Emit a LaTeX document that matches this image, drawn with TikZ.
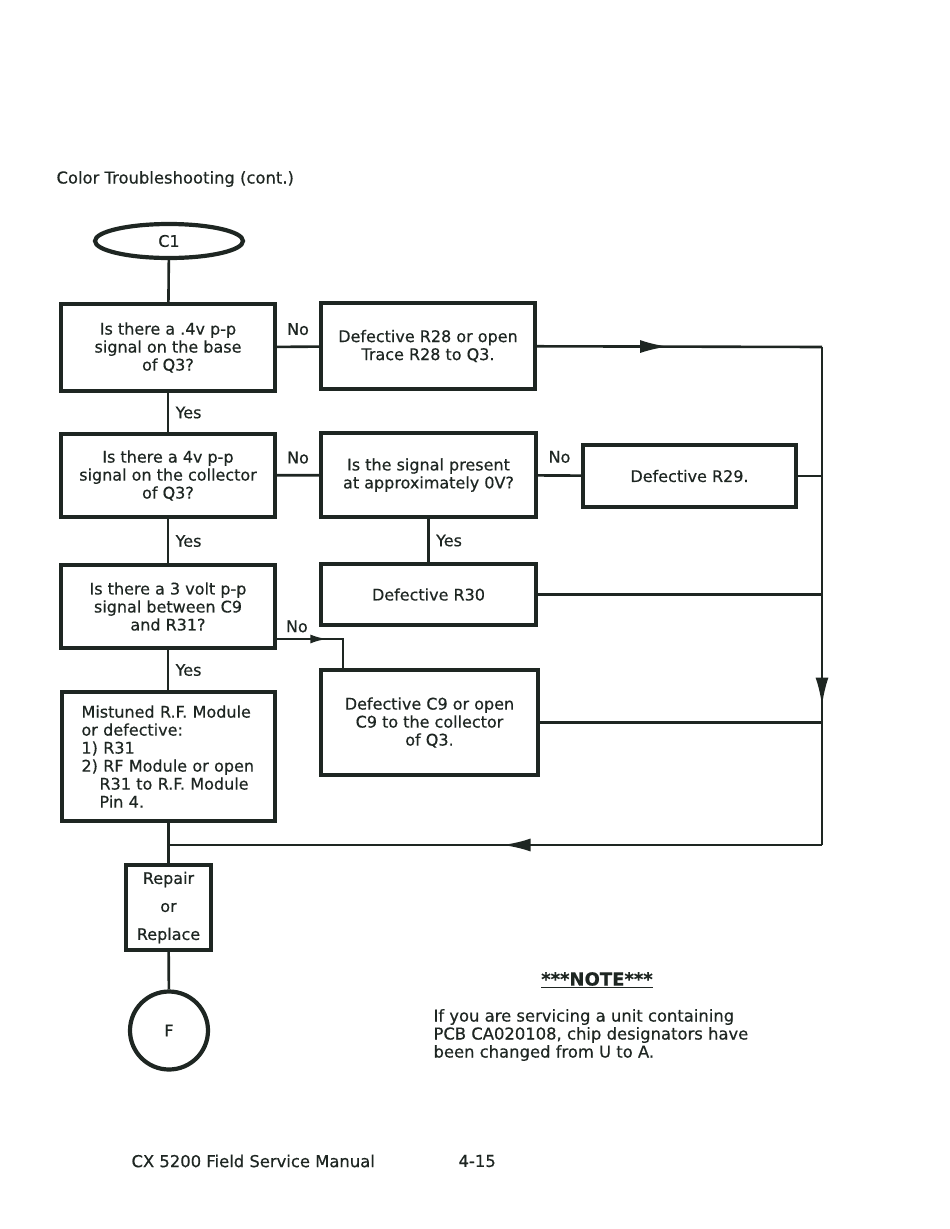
\documentclass[tikz,border=0pt]{standalone}
\usepackage{fontspec}
\setmainfont{DejaVu Sans}[FakeBold=0.5]
\usetikzlibrary{shapes.geometric,arrows.meta,decorations.markings,positioning}
\definecolor{ink}{RGB}{30,38,34}
\begin{document}
\begin{tikzpicture}[x=1pt,y=-1pt,
    font=\fontsize{16}{18}\selectfont, color=ink,
    box/.style={draw,line width=4.2pt,align=center,inner sep=2pt},
    flow/.style={draw,line width=2.6pt},
    big/.style={font=\fontsize{16.4}{18}\selectfont},
    arrowat/.style={postaction={decorate},decoration={markings,
        mark=at position #1 with {\arrow{Latex[length=28pt,width=13pt]}}}},
    smallarrowat/.style={postaction={decorate},decoration={markings,
        mark=at position #1 with {\arrow{Latex[length=17pt,width=9pt]}}}}]
\useasboundingbox (0,0) rectangle (950,1229);

\node[big,anchor=west] (title) at (53,179) {Color Troubleshooting (cont.)};

% left column
\node[box,ellipse,minimum width=148,minimum height=34] (c1) at (169,241) {C1};
\node[box,minimum width=214,minimum height=87] (q1) at (168,347.5) {Is there a .4v p-p\\signal on the base\\of Q3?};
\node[box,minimum width=214,minimum height=83] (q2) at (168,475.5) {Is there a 4v p-p\\signal on the collector\\of Q3?};
\node[box,minimum width=214,minimum height=83] (q3) at (168,606.5) {Is there a 3 volt p-p\\signal between C9\\and R31?};
\node[box,minimum width=213,minimum height=129,text width=174,align=left] (rf) at (168.5,756.5)
    {Mistuned R.F. Module\\or defective:\\1) R31\\2) RF Module or open\\\hspace*{18pt}R31 to R.F. Module\\\hspace*{18pt}Pin 4.};
\node[box,minimum width=85,minimum height=85] (rep) at (168.5,907.5) {Repair\\[10pt]or\\[10pt]Replace};
\node[box,circle,minimum size=78] (fin) at (169,1030.5) {F};

% middle and right column
\node[box,minimum width=214,minimum height=86] (r28) at (428,346) {Defective R28 or open\\Trace R28 to Q3.};
\node[box,minimum width=215,minimum height=84] (q4) at (428.5,475) {Is the signal present\\at approximately 0V?};
\node[box,minimum width=213,minimum height=62] (r29) at (689.5,476) {Defective R29.};
\node[box,minimum width=215,minimum height=61] (r30) at (428.5,594.5) {Defective R30};
\node[box,minimum width=217,minimum height=105] (c9) at (429.5,722.5) {Defective C9 or open\\C9 to the collector\\of Q3.};

\coordinate (cr) at (822,347);
\coordinate (cb) at (822,845);
\coordinate (jn) at (170,845);
\coordinate (nobend) at (343,639);

% connectors
\draw[flow] (c1) -- (q1);
\draw[flow] (q1) -- node[right=3pt] {Yes} (q2);
\draw[flow] (q2) -- node[right=3pt] {Yes} (q3);
\draw[flow] (q3) -- node[right=3pt] {Yes} (rf.north -| q3);
\draw[flow] (rf.south -| rep) -- (rep);
\draw[flow] (rep) -- (fin);
\draw[flow] (q4) -- node[right=3pt] {Yes} (r30);
\draw[flow] (q1) -- node[above=7pt] {No} (r28);
\draw[flow] (q2) -- node[above=7pt] {No} (q4);
\draw[flow] (q4) -- node[above=8pt] {No} (r29);
\draw[flow,smallarrowat=0.53] (q3.east |- nobend) -- node[above=2pt,pos=0.3] {No} (nobend) -- (nobend |- c9.north);

% return path
\draw[flow,arrowat=0.46] (r28) -- (cr);
\draw[flow,arrowat=0.72] (cr) -- (cb);
\draw[flow,arrowat=0.49] (cb) -- (jn);
\draw[flow] (r29) -- (r29 -| cr);
\draw[flow] (r30) -- (r30 -| cr);
\draw[flow] (c9) -- (c9 -| cr);

% note
\node[font=\fontsize{18}{20}\selectfont] (note) at (597,980) {\underline{\textbf{***NOTE***}}};
\node[big,anchor=west,align=left] (notetext) at (430,1035) {If you are servicing a unit containing\\PCB CA020108, chip designators have\\been changed from U to A.};

% footer
\node[big,anchor=west] (manual) at (128,1161) {CX 5200 Field Service Manual};
\node[big,anchor=west] (page) at (455,1161) {4-15};
\end{tikzpicture}
\end{document}
